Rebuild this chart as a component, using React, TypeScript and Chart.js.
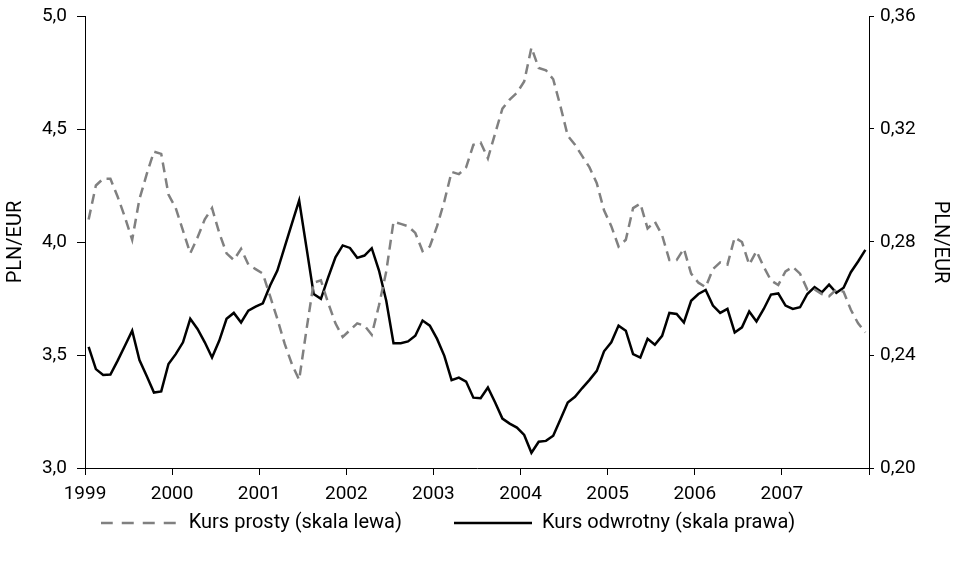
import React, { useEffect, useRef } from "react";
import { Chart, registerables } from "chart.js";

Chart.register(...registerables);

const startYear = 1999;
const yearTicks = ["1999", "2000", "2001", "2002", "2003", "2004", "2005", "2006", "2007", ""];

const seriesLabels = ["Kurs prosty (skala lewa)", "Kurs odwrotny (skala prawa)"];

const kursProsty = [
  4.10, 4.25, 4.28, 4.28, 4.20, 4.11, 4.01, 4.19, 4.30, 4.40, 4.39, 4.21,
  4.15, 4.05, 3.95, 4.02, 4.10, 4.15, 4.04, 3.95, 3.92, 3.97, 3.90, 3.88,
  3.86, 3.76, 3.66, 3.55, 3.46, 3.39, 3.61, 3.82, 3.83, 3.73, 3.64, 3.58,
  3.61, 3.64, 3.63, 3.59, 3.72, 3.87, 4.09, 4.08, 4.07, 4.04, 3.96, 3.98,
  4.07, 4.18, 4.31, 4.30, 4.33, 4.43, 4.44, 4.37, 4.48, 4.59, 4.63, 4.66,
  4.71, 4.86, 4.77, 4.76, 4.72, 4.60, 4.47, 4.43, 4.38, 4.33, 4.26, 4.14,
  4.07, 3.98, 4.01, 4.15, 4.17, 4.06, 4.09, 4.03, 3.92, 3.92, 3.97, 3.86,
  3.82, 3.80, 3.88, 3.91, 3.90, 4.02, 4.00, 3.90, 3.96, 3.89, 3.83, 3.81,
  3.87, 3.89, 3.86, 3.79, 3.79, 3.77, 3.76, 3.79, 3.78, 3.70, 3.64, 3.60,
];

const kursOdwrotny = [
  0.2429, 0.2350, 0.2329, 0.2331, 0.2380, 0.2433, 0.2486, 0.2382, 0.2326, 0.2267, 0.2271, 0.2368,
  0.2403, 0.2445, 0.2528, 0.2492, 0.2445, 0.2391, 0.2451, 0.2528, 0.2549, 0.2515, 0.2557, 0.2571,
  0.2583, 0.2646, 0.2699, 0.2782, 0.2865, 0.2947, 0.2782, 0.2616, 0.2599, 0.2675, 0.2746, 0.2788,
  0.2779, 0.2744, 0.2752, 0.2778, 0.2699, 0.2592, 0.2442, 0.2442, 0.2448, 0.2468, 0.2522, 0.2504,
  0.2457, 0.2397, 0.2311, 0.2320, 0.2306, 0.2249, 0.2247, 0.2285, 0.2232, 0.2175, 0.2157, 0.2143,
  0.2117, 0.2054, 0.2093, 0.2096, 0.2114, 0.2173, 0.2232, 0.2252, 0.2283, 0.2312, 0.2344, 0.2413,
  0.2445, 0.2504, 0.2486, 0.2403, 0.2391, 0.2457, 0.2436, 0.2468, 0.2549, 0.2545, 0.2515, 0.2592,
  0.2616, 0.2630, 0.2575, 0.2549, 0.2563, 0.2480, 0.2498, 0.2554, 0.2519, 0.2563, 0.2614, 0.2618,
  0.2575, 0.2563, 0.2569, 0.2616, 0.2640, 0.2622, 0.2649, 0.2620, 0.2638, 0.2693, 0.2731, 0.2772,
];

const FONT = "Roboto, 'Liberation Sans', sans-serif";
const FS = 19;
const FS_BIG = 20;
const SAMPLE_W = 78;

function lineSample(color: string, dash: number[]) {
  const c = document.createElement("canvas");
  c.width = SAMPLE_W;
  c.height = 4;
  const ctx = c.getContext("2d")!;
  ctx.strokeStyle = color;
  ctx.lineWidth = 2.5;
  ctx.setLineDash(dash);
  ctx.beginPath();
  ctx.moveTo(0, 2);
  ctx.lineTo(SAMPLE_W, 2);
  ctx.stroke();
  return c;
}

const legendShift = {
  id: "legendShift",
  afterLayout(chart: any) {
    const lg = chart.legend;
    if (!lg) return;
    const dx = -30;
    lg.left += dx;
    lg.right += dx;
    lg.top = 461;
    lg.bottom = 564;
  },
};

export default function App() {
  const ref = useRef<HTMLCanvasElement | null>(null);

  useEffect(() => {
    if (!ref.current) return;
    const toPts = (arr: number[]) => arr.map((v, i) => ({ x: i + 0.5, y: v }));
    const samples = [lineSample("#808080", [12, 9]), lineSample("#000000", [])];
    const chart = new Chart(ref.current, {
      type: "line",
      data: {
        datasets: [
          {
            label: seriesLabels[0],
            data: toPts(kursProsty),
            yAxisID: "yL",
            borderColor: "#808080",
            backgroundColor: "#808080",
            borderWidth: 2.5,
            borderDash: [10, 6],
            pointRadius: 0,
            tension: 0,
            fill: false,
          },
          {
            label: seriesLabels[1],
            data: toPts(kursOdwrotny),
            yAxisID: "yR",
            borderColor: "#000000",
            backgroundColor: "#000000",
            borderWidth: 2.5,
            pointRadius: 0,
            tension: 0,
            fill: false,
          },
        ],
      },
      options: {
        responsive: false,
        animation: false,
        devicePixelRatio: 1,
        layout: { padding: { top: 16, left: 0, right: 0, bottom: 0 } },
        plugins: {
          tooltip: { enabled: false },
          legend: {
            display: true,
            position: "bottom",
            maxHeight: 40,
            labels: {
              usePointStyle: true,
              pointStyleWidth: SAMPLE_W,
              padding: 52,
              color: "#000",
              font: { family: FONT, size: FS_BIG },
              generateLabels: (ch: any) =>
                ch.data.datasets.map((ds: any, i: number) => ({
                  text: ds.label,
                  fillStyle: ds.borderColor,
                  strokeStyle: ds.borderColor,
                  lineWidth: 0,
                  pointStyle: samples[i],
                  hidden: false,
                  datasetIndex: i,
                  fontColor: "#000",
                })),
            },
          },
        },
        scales: {
          x: {
            type: "linear",
            min: 0,
            max: 108,
            afterFit: (s: any) => { s.height = 56; },
            border: { display: true, color: "#000", width: 1 },
            grid: { display: true, drawOnChartArea: false, drawTicks: true, tickLength: 7, color: "#000" },
            ticks: {
              stepSize: 12,
              autoSkip: false,
              maxRotation: 0,
              padding: 8,
              color: "#000",
              font: { family: FONT, size: FS },
              callback: (v: any) => yearTicks[Math.round(Number(v) / 12)] ?? String(startYear + Number(v) / 12),
            },
          },
          yL: {
            type: "linear",
            position: "left",
            min: 3,
            max: 5,
            afterFit: (s: any) => { s.width = 85; s.paddingTop = 0; s.paddingBottom = 0; },
            border: { display: true, color: "#000", width: 1 },
            grid: { display: true, drawOnChartArea: false, drawTicks: true, tickLength: 8, color: "#000" },
            title: { display: true, text: "PLN/EUR", color: "#000", font: { family: FONT, size: FS_BIG } },
            ticks: {
              stepSize: 0.5,
              padding: 10,
              color: "#000",
              font: { family: FONT, size: FS },
              callback: (v: any) => Number(v).toFixed(1).replace(".", ","),
            },
          },
          yR: {
            type: "linear",
            position: "right",
            min: 0.2,
            max: 0.36,
            afterFit: (s: any) => { s.width = 87; s.paddingTop = 0; s.paddingBottom = 0; },
            border: { display: true, color: "#000", width: 1 },
            grid: { display: true, drawOnChartArea: false, drawTicks: true, tickLength: 5, color: "#000" },
            title: { display: true, text: "PLN/EUR", color: "#000", font: { family: FONT, size: FS_BIG } },
            ticks: {
              stepSize: 0.04,
              padding: 6,
              color: "#000",
              font: { family: FONT, size: FS },
              callback: (v: any) => Number(v).toFixed(2).replace(".", ","),
            },
          },
        },
      },
      plugins: [legendShift],
    } as any);
    return () => chart.destroy();
  }, []);

  return (
    <div style={{ position: "absolute", left: 0, top: 0, width: 956, height: 564, background: "#fff" }}>
      <canvas ref={ref} width={956} height={564} style={{ width: 956, height: 564, display: "block" }} />
    </div>
  );
}
